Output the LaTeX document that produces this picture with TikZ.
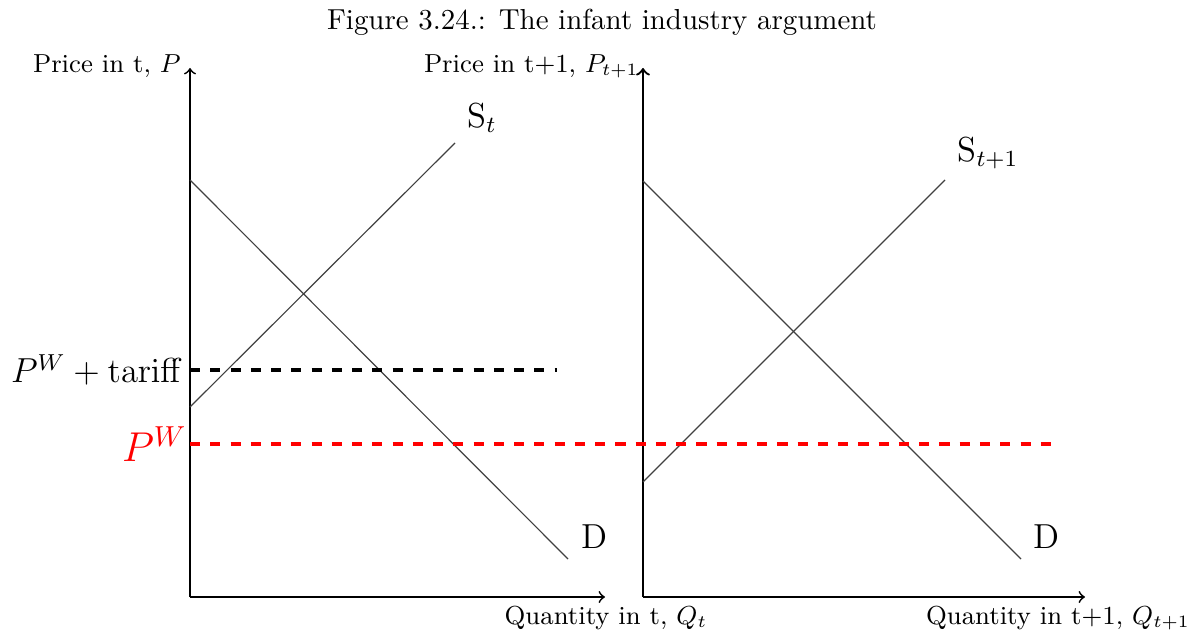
\documentclass[tikz,border=0pt]{standalone}
\usetikzlibrary{positioning}
\begin{document}
\begin{tikzpicture}[x=0.01215cm,y=-0.01215cm,
    axis/.style={->,semithick},
    curve/.style={black!75},
    worldprice/.style={red,dash pattern=on 3.5pt off 3.5pt,very thick},
    tariffprice/.style={black,dash pattern=on 3.5pt off 3.5pt,very thick},
    axislabel/.style={font=\small},
    curvelabel/.style={font=\large}]
  \useasboundingbox (0,0) rectangle (1196,632);

  \node (title) at (602,22) {Figure 3.24.: The infant industry argument};

  % Period t
  \coordinate (o1) at (190,597);
  \draw[axis] (o1) -- (190,68) coordinate (p1top);
  \draw[axis] (o1) -- (605,597) coordinate (q1end);
  \node[axislabel, anchor=east] (p1lab) at (191,66) {Price in t, $P$};
  \node[axislabel] (q1lab) at (606,618) {Quantity in t, $Q_t$};
  \draw[curve] (190,407) -- (455,143);
  \node[curvelabel] (s1lab) at (482,118) {S$_t$};
  \draw[curve] (190,180) -- (568,559);
  \node[curvelabel] (d1lab) at (594,537) {D};

  % Period t+1
  \coordinate (o2) at (643,597);
  \draw[axis,thick] (o2) -- (643,68) coordinate (p2top);
  \draw[axis] (o2) -- (1085,597) coordinate (q2end);
  \node[axislabel, anchor=east] (p2lab) at (649,66) {Price in t+1, $P_{t+1}$};
  \node[axislabel] (q2lab) at (1058,618) {Quantity in t+1, $Q_{t+1}$};
  \draw[curve] (643,482) -- (945,180);
  \node[curvelabel] (s2lab) at (988,153) {S$_{t+1}$};
  \draw[curve] (643,181) -- (1021,559);
  \node[curvelabel] (d2lab) at (1046,537) {D};

  % Prices
  \draw[tariffprice] (190,370) -- (557,370);
  \node[font=\large, anchor=east] (ptariff) at (193,370) {$P^W+\mathrm{tariff}$};
  \draw[worldprice] (190,444) -- (1058,444);
  \node[font=\Large, text=red, anchor=east] (pw) at (197,444) {$P^W$};
\end{tikzpicture}
\end{document}
